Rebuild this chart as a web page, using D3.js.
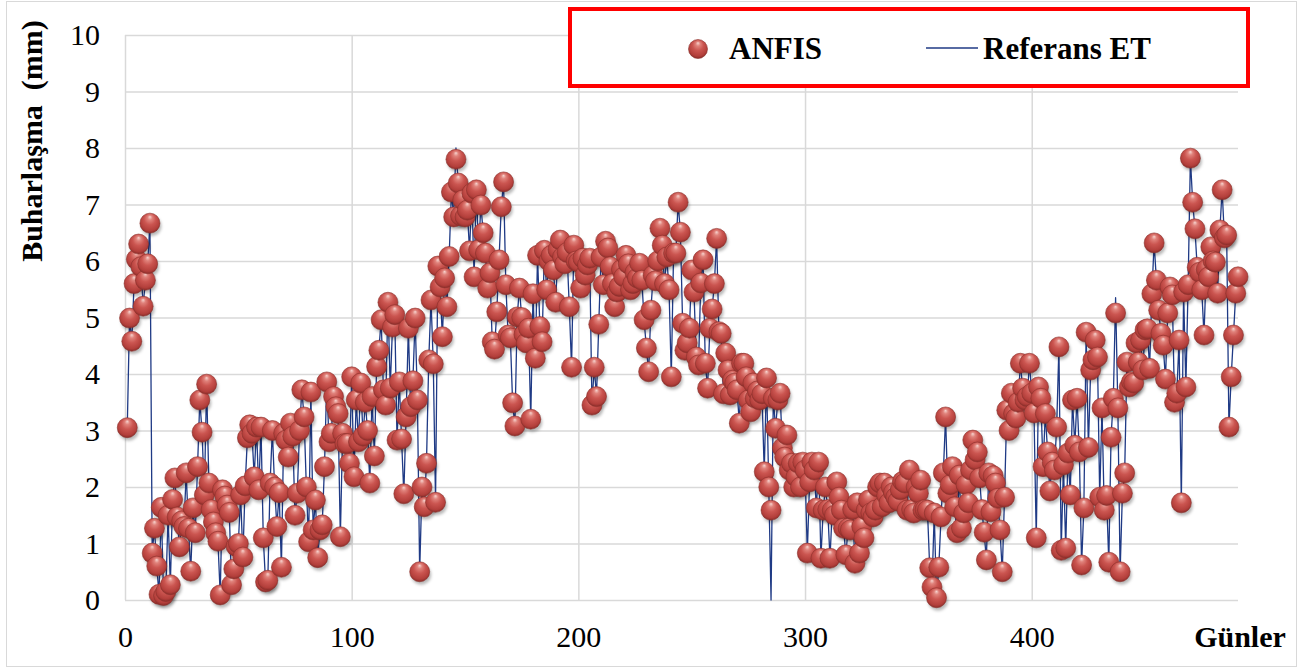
<!DOCTYPE html>
<html><head><meta charset="utf-8">
<script src="https://cdn.jsdelivr.net/npm/d3@7"></script>
<style>html,body{margin:0;padding:0;background:#fff;overflow:hidden}</style>
</head><body>
<svg id="chart" width="1309" height="668"></svg>
<script>
// ---- data (days 1..491) ----
const anfis = [
3.05,4.99,4.58,5.6,6.03,6.3,5.9,5.2,5.66,5.95,
6.67,0.83,1.27,0.6,0.1,1.64,0.08,0.15,1.5,0.27,
1.78,2.16,1.47,0.94,1.4,1.3,2.25,1.27,0.51,1.63,
1.19,2.36,3.54,2.97,1.86,3.82,2.07,1.6,1.38,1.19,
1.04,0.09,1.95,1.84,1.68,1.55,0.27,0.55,0.95,1.0,
1.86,0.76,2.02,2.87,3.1,2.95,2.18,3.06,1.95,3.06,
1.1,0.32,0.35,2.07,3.0,2.0,1.3,1.9,0.58,2.95,
2.83,2.53,3.13,2.9,1.5,1.89,3.0,3.72,3.24,2.0,
1.03,3.68,1.24,1.77,0.75,1.24,1.33,2.36,3.86,2.8,
2.95,3.6,3.42,3.3,1.12,2.95,2.77,2.77,2.42,3.95,
2.18,3.54,2.8,3.84,2.9,3.5,3.0,2.07,3.6,2.55,
4.13,4.42,4.96,3.72,3.45,5.27,3.75,4.83,5.05,2.83,
3.86,2.85,1.88,3.24,4.81,3.42,3.88,4.99,3.54,0.5,
2.0,1.65,2.42,4.25,5.31,4.18,1.73,5.91,5.54,4.66,
5.7,5.19,6.08,7.22,6.78,7.8,7.38,6.8,7.08,6.78,
6.9,6.18,7.2,5.72,7.26,6.2,6.99,6.5,6.14,5.52,
5.79,4.57,4.44,5.1,6.02,6.96,7.4,5.58,4.69,4.64,
3.49,3.08,5.01,5.52,5.0,4.7,4.55,4.81,3.2,5.42,
4.28,6.1,4.84,4.57,6.19,5.49,6.0,6.1,5.84,5.27,
6.2,6.37,6.07,5.95,6.15,5.19,4.12,6.28,6.0,5.98,
5.52,6.05,5.75,5.93,6.05,3.45,4.12,3.6,4.88,6.07,
5.58,6.35,6.23,5.9,5.6,5.19,5.45,5.55,5.85,5.72,
6.1,5.95,5.49,5.6,5.8,5.7,5.96,5.66,4.96,4.46,
4.04,5.13,5.75,5.65,6.0,6.58,6.28,5.6,6.07,5.49,
3.95,6.14,6.14,7.04,6.51,4.9,4.42,4.55,4.81,5.84,
5.45,4.3,4.16,5.61,6.02,4.19,3.75,4.81,5.15,5.6,
6.4,4.75,4.72,3.65,4.37,4.07,3.63,3.89,3.84,3.72,
3.13,4.19,4.19,3.95,3.54,3.33,3.84,3.57,3.7,3.54,
3.65,2.27,3.93,2.0,1.59,3.57,3.04,3.54,3.66,2.69,
2.53,2.92,2.3,2.42,2.0,2.18,2.42,2.0,2.44,2.3,
0.83,2.09,2.44,2.3,1.63,2.44,0.74,1.59,2.0,1.6,
0.74,1.59,1.5,2.09,1.82,1.59,1.27,0.8,1.27,1.24,
1.6,0.65,1.72,0.83,1.3,1.1,1.59,1.77,1.54,1.47,
1.59,2.0,2.07,1.65,2.07,1.85,1.72,2.0,1.9,1.82,
1.75,1.95,2.1,2.07,1.59,2.3,1.6,1.54,2.0,1.89,
2.12,1.59,1.6,1.59,0.57,0.23,1.54,0.04,0.58,1.47,
2.25,3.24,1.89,2.04,2.36,1.65,1.19,2.21,1.27,1.54,
2.04,1.72,2.3,2.83,2.48,2.62,2.16,1.6,1.2,0.71,
2.25,1.56,2.2,2.07,1.8,1.24,0.5,1.82,3.36,3.0,
3.66,3.3,3.22,3.5,4.19,3.75,3.54,3.6,4.19,3.66,
3.31,1.1,3.77,3.57,2.36,3.3,2.62,1.93,2.44,2.3,
3.06,4.48,0.88,2.39,0.92,2.6,1.86,3.54,2.74,3.57,
2.62,0.62,1.63,4.74,2.7,4.07,4.25,4.6,4.3,1.82,
3.4,1.59,1.85,0.67,2.88,3.57,5.08,3.4,0.5,1.89,
2.25,4.21,3.77,3.86,3.84,4.55,4.21,4.6,4.07,4.78,
4.8,4.1,5.42,6.32,5.66,5.13,4.72,4.51,3.91,5.08,
5.54,5.4,3.5,3.66,4.6,1.72,5.45,3.77,5.58,7.82,
7.04,6.57,5.89,5.8,5.49,4.69,5.85,5.72,6.25,6.0,
5.98,5.43,6.55,7.26,6.41,6.46,3.06,3.95,4.69,5.43,
5.72
];
const referans = [
3.05,4.99,4.58,5.6,6.03,6.3,5.9,5.2,5.66,5.95,
6.67,0.83,1.27,0.6,0.1,1.64,0.08,0.15,1.5,0.27,
1.78,2.16,1.47,0.94,1.4,1.3,2.25,1.27,0.51,1.63,
1.19,2.36,3.54,2.97,1.86,3.82,2.07,1.6,1.38,1.19,
1.04,0.09,1.95,1.84,1.68,1.55,0.27,0.55,0.95,1.0,
1.86,0.76,2.02,2.87,3.1,2.95,2.18,3.06,1.95,3.06,
1.1,0.32,0.35,2.07,3.0,2.0,1.3,1.9,0.58,2.95,
2.83,2.53,3.13,2.9,1.5,1.89,3.0,3.72,3.24,2.0,
1.03,3.68,1.24,1.77,0.75,1.24,1.33,2.36,3.86,2.8,
2.95,3.6,3.42,3.3,1.12,2.95,2.77,2.77,2.42,3.95,
2.18,3.54,2.8,3.84,2.9,3.5,3.0,2.07,3.6,2.55,
4.13,4.42,4.96,3.72,3.45,5.27,3.75,4.83,5.05,2.83,
3.86,2.85,1.88,3.24,4.81,3.42,3.88,4.99,3.54,0.5,
2.0,1.65,2.42,4.25,5.31,4.18,1.73,5.91,5.54,4.66,
5.7,5.19,6.08,7.22,6.78,8.0,7.38,6.8,7.08,6.78,
6.9,6.18,7.2,5.72,7.26,6.2,6.99,6.5,6.14,5.52,
5.79,4.57,4.44,5.1,6.02,6.96,7.4,5.58,4.69,4.64,
3.49,3.08,5.01,5.52,5.0,4.7,4.55,4.81,3.2,5.42,
4.28,6.1,4.84,4.57,6.19,5.49,6.0,6.1,5.84,5.27,
6.2,6.37,6.07,5.95,6.15,5.19,4.12,6.28,6.0,5.98,
5.52,6.05,5.75,5.93,6.05,3.45,4.12,3.6,4.88,6.07,
5.58,6.35,6.23,5.9,5.6,5.19,5.45,5.55,5.85,5.72,
6.1,5.95,5.49,5.6,5.8,5.7,5.96,5.66,4.96,4.46,
4.04,5.13,5.75,5.65,6.0,6.58,6.28,5.6,6.07,5.49,
3.95,6.14,6.14,7.04,6.51,4.9,4.42,4.55,4.81,5.84,
5.45,4.3,4.16,5.61,6.02,4.19,3.75,4.81,5.15,5.6,
6.4,4.75,4.72,3.65,4.37,4.07,3.63,3.89,3.84,3.72,
3.13,4.19,4.19,3.95,3.54,3.33,3.84,3.57,3.7,3.54,
3.65,2.27,3.93,2.0,0.0,3.57,3.04,3.54,3.66,2.69,
2.53,2.92,2.3,2.42,2.0,2.18,2.42,2.0,2.44,2.3,
0.83,2.09,2.44,2.3,1.63,2.44,0.74,1.59,2.0,1.6,
0.74,1.59,1.5,2.09,1.82,1.59,1.27,0.8,1.27,1.24,
1.6,0.65,1.72,0.83,1.3,1.1,1.59,1.77,1.54,1.47,
1.59,2.0,2.07,1.65,2.07,1.85,1.72,2.0,1.9,1.82,
1.75,1.95,2.1,2.07,1.59,2.3,1.6,1.54,2.0,1.89,
2.12,1.59,1.6,1.59,0.57,0.23,1.54,0.04,0.58,1.47,
2.25,3.24,1.89,2.04,2.36,1.65,1.19,2.21,1.27,1.54,
2.04,1.72,2.3,2.83,2.48,2.62,2.16,1.6,1.2,0.71,
2.25,1.56,2.2,2.07,1.8,1.24,0.5,1.82,3.36,3.0,
3.66,3.3,3.22,3.5,4.19,3.75,3.54,3.6,4.19,3.66,
3.31,1.1,3.77,3.57,2.36,3.3,2.62,1.93,2.44,2.3,
3.06,4.48,0.88,2.39,0.92,2.6,1.86,3.54,2.74,3.57,
2.62,0.62,1.63,4.74,2.7,4.07,4.25,4.6,4.3,1.82,
3.4,1.59,1.85,0.67,2.88,3.57,5.35,3.4,0.5,1.89,
2.25,4.21,3.77,3.86,3.84,4.55,4.21,4.6,4.07,4.78,
4.8,4.1,5.42,6.32,5.66,5.13,4.72,4.51,3.91,5.08,
5.54,5.4,3.5,3.66,4.6,1.72,5.45,3.77,5.58,7.82,
7.04,6.57,5.89,5.8,5.49,4.69,5.85,5.72,6.25,6.0,
5.98,5.43,6.55,7.26,6.41,6.46,3.06,3.95,4.69,5.43,
5.72
];
const xTickValues = [0, 100, 200, 300, 400];
const yTickValues = [0, 1, 2, 3, 4, 5, 6, 7, 8, 9, 10];
const seriesNames = ["ANFIS", "Referans ET"];
const xTitle = "Günler";
const yTitle = "Buharlaşma  (mm)";

// ---- layout ----
const W = 1309, H = 668;
const plot = {left: 125, right: 1238, top: 35, bottom: 600};
const FONT = "'Liberation Serif','Times New Roman',serif";
const GRID = "#d9d9d9";
const LINE = "#1f3a85";

const days = d3.range(1, anfis.length + 1);
const x = d3.scaleLinear().domain([0, 491]).range([plot.left, plot.right]);
const y = d3.scaleLinear().domain([0, 10]).range([plot.bottom, plot.top]);

const svg = d3.select("#chart");
const defs = svg.append("defs");

const grad = defs.append("radialGradient").attr("id", "ball")
  .attr("cx", "50%").attr("cy", "42%").attr("r", "60%")
  .attr("fx", "50%").attr("fy", "18%");
[[0, "#f7d4cf"], [0.2, "#e0827b"], [0.48, "#cb5550"], [0.82, "#b33f3b"], [1, "#842a27"]]
  .forEach(([o, c]) => grad.append("stop").attr("offset", o).attr("stop-color", c));

const blur = defs.append("filter").attr("id", "shadowBlur")
  .attr("x", "-20%").attr("y", "-20%").attr("width", "140%").attr("height", "140%");
blur.append("feGaussianBlur").attr("stdDeviation", 1.6);

svg.append("rect").attr("width", W).attr("height", H).attr("fill", "#fff");
// outer frame
svg.append("rect").attr("x", 6.5).attr("y", 1.5).attr("width", 1290).attr("height", 665)
  .attr("fill", "none").attr("stroke", GRID).attr("stroke-width", 1);

// horizontal grid
svg.append("g").attr("transform", `translate(${plot.left},0)`)
  .call(d3.axisLeft(y).tickValues(yTickValues).tickSize(-(plot.right - plot.left)).tickFormat(""))
  .call(g => g.select(".domain").remove())
  .call(g => g.selectAll("line").attr("stroke", GRID).attr("stroke-width", 1.5));
// vertical grid
svg.append("g").attr("transform", `translate(0,${plot.bottom})`)
  .call(d3.axisBottom(x).tickValues(xTickValues).tickSize(-(plot.bottom - plot.top)).tickFormat(""))
  .call(g => g.select(".domain").remove())
  .call(g => g.selectAll("line").attr("stroke", GRID).attr("stroke-width", 1.5));

// tick labels
svg.append("g").attr("transform", `translate(${plot.left},0)`)
  .call(d3.axisLeft(y).tickValues(yTickValues).tickSize(0).tickPadding(25))
  .call(g => g.select(".domain").remove())
  .call(g => g.selectAll("text").attr("font-family", FONT).attr("font-size", 30).attr("fill", "#000"));
svg.append("g").attr("transform", `translate(0,${plot.bottom})`)
  .call(d3.axisBottom(x).tickValues(xTickValues).tickSize(0).tickPadding(26))
  .call(g => g.select(".domain").remove())
  .call(g => g.selectAll("text").attr("font-family", FONT).attr("font-size", 30).attr("fill", "#000"));

// axis titles
svg.append("text").attr("x", 1240).attr("y", 647).attr("text-anchor", "middle")
  .attr("font-family", FONT).attr("font-weight", "bold").attr("font-size", 30).text(xTitle);
svg.append("text").attr("transform", "translate(42,141) rotate(-90)").attr("text-anchor", "middle")
  .attr("font-family", FONT).attr("font-weight", "bold").attr("font-size", 30)
  .attr("xml:space", "preserve").style("white-space", "pre").text(yTitle);

// reference line
const line = d3.line().x((d, i) => x(days[i])).y(d => y(d));
svg.append("path").datum(referans).attr("d", line)
  .attr("fill", "none").attr("stroke", LINE).attr("stroke-width", 1.3).attr("stroke-linejoin", "round");

// ANFIS spheres
const R = 10;
svg.append("g").attr("filter", "url(#shadowBlur)").selectAll("circle").data(anfis).join("circle")
  .attr("cx", (d, i) => x(days[i]) + 1.5).attr("cy", d => y(d) + 3).attr("r", R)
  .attr("fill", "rgba(0,0,0,0.28)");
svg.append("g").selectAll("circle").data(anfis).join("circle")
  .attr("cx", (d, i) => x(days[i])).attr("cy", d => y(d)).attr("r", R)
  .attr("fill", "url(#ball)").attr("stroke", "#8c302c").attr("stroke-width", 0.6);

// legend
const lg = svg.append("g");
lg.append("rect").attr("x", 570).attr("y", 9).attr("width", 678).attr("height", 77)
  .attr("fill", "#fff").attr("stroke", "#ff0000").attr("stroke-width", 4);
lg.append("circle").attr("cx", 698).attr("cy", 49).attr("r", 9.5)
  .attr("fill", "url(#ball)").attr("stroke", "#8c302c").attr("stroke-width", 0.6);
lg.append("text").attr("x", 729).attr("y", 59).attr("font-family", FONT).attr("font-weight", "bold")
  .attr("font-size", 31).text(seriesNames[0]);
lg.append("line").attr("x1", 926).attr("x2", 978).attr("y1", 48).attr("y2", 48)
  .attr("stroke", LINE).attr("stroke-width", 1.3);
lg.append("text").attr("x", 983).attr("y", 59).attr("font-family", FONT).attr("font-weight", "bold")
  .attr("font-size", 31).text(seriesNames[1]);
</script>
</body></html>
